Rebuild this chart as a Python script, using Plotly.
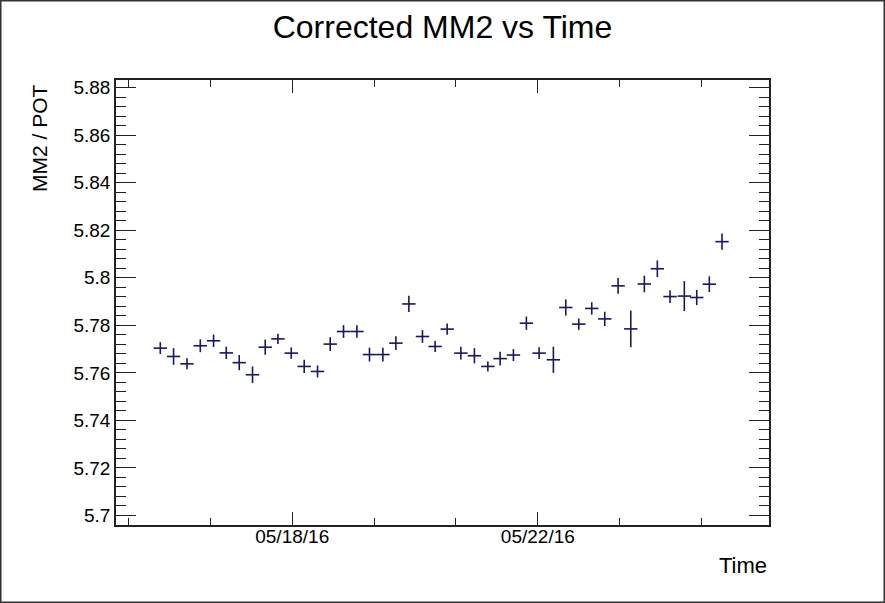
import pandas as pd
import plotly.graph_objects as go

# ---- data ----
times = [
    "2016-05-15 20:26", "2016-05-16 01:37", "2016-05-16 06:52", "2016-05-16 12:04",
    "2016-05-16 17:15", "2016-05-16 22:13", "2016-05-17 03:17", "2016-05-17 08:29",
    "2016-05-17 13:27", "2016-05-17 18:25", "2016-05-17 23:37", "2016-05-18 04:41",
    "2016-05-18 09:53", "2016-05-18 14:51", "2016-05-18 20:03", "2016-05-19 01:17",
    "2016-05-19 06:12", "2016-05-19 11:26", "2016-05-19 16:31", "2016-05-19 21:36",
    "2016-05-20 02:55", "2016-05-20 07:52", "2016-05-20 12:34", "2016-05-20 17:55",
    "2016-05-20 23:13", "2016-05-21 04:28", "2016-05-21 09:16", "2016-05-21 14:28",
    "2016-05-21 19:32", "2016-05-22 00:30", "2016-05-22 06:05", "2016-05-22 10:56",
    "2016-05-22 16:01", "2016-05-22 21:05", "2016-05-23 02:10", "2016-05-23 07:22",
    "2016-05-23 12:20", "2016-05-23 17:38", "2016-05-23 22:43", "2016-05-24 03:41",
    "2016-05-24 09:16", "2016-05-24 14:07", "2016-05-24 19:02", "2016-05-25 00:00",
]
mm2 = [
    5.7704, 5.7669, 5.7638, 5.7714, 5.7735, 5.7684, 5.7643, 5.7592,
    5.7708, 5.7743, 5.7683, 5.7627, 5.7606, 5.7721, 5.7774, 5.7774,
    5.7677, 5.7677, 5.7725, 5.7890, 5.7753, 5.7711, 5.7784, 5.7683,
    5.7672, 5.7627, 5.7660, 5.7675, 5.7809, 5.7683, 5.7655, 5.7875,
    5.7805, 5.7871, 5.7827, 5.7966, 5.7785, 5.7974, 5.8038, 5.7921,
    5.7923, 5.7917, 5.7973, 5.8152,
]
mm2_err = [
    0.0025, 0.0035, 0.0023, 0.0027, 0.0026, 0.0026, 0.0032, 0.0035,
    0.0032, 0.0022, 0.0024, 0.0028, 0.0025, 0.0029, 0.0027, 0.0026,
    0.0029, 0.0029, 0.0029, 0.0034, 0.0027, 0.0023, 0.0024, 0.0027,
    0.0032, 0.0021, 0.0029, 0.0025, 0.0028, 0.0025, 0.0055, 0.0034,
    0.0024, 0.0026, 0.0030, 0.0033, 0.0077, 0.0035, 0.0035, 0.0027,
    0.0063, 0.0032, 0.0033, 0.0034,
]
half_bin_hours = 2.62  # horizontal error (half bin width), hours

y_tick_vals = [5.70, 5.72, 5.74, 5.76, 5.78, 5.80, 5.82, 5.84, 5.86, 5.88]
y_tick_text = ["5.7", "5.72", "5.74", "5.76", "5.78", "5.8", "5.82", "5.84", "5.86", "5.88"]
x_tick_dates = ["2016-05-18", "2016-05-22"]
x_tick_text = ["05/18/16", "05/22/16"]

x_range_dates = ["2016-05-15 03:07", "2016-05-25 18:22"]
y_range = [5.6960, 5.8832]


def to_ms(values):
    return [int(v) for v in (pd.to_datetime(values).astype("int64") // 10**6)]


HOUR_MS = 3600 * 1000
x_ms = to_ms(times)
x_tick_vals = to_ms(x_tick_dates)
x_range = to_ms(x_range_dates)

color = "#16166e"
font_family = "Liberation Sans, Arial, Helvetica, sans-serif"

fig = go.Figure()
fig.add_trace(go.Scatter(
    x=x_ms, y=mm2, mode="markers",
    marker=dict(size=1, color=color, opacity=0),
    error_y=dict(type="data", array=mm2_err, color=color, thickness=1.6, width=0),
    error_x=dict(type="constant", value=half_bin_hours * HOUR_MS,
                 color=color, thickness=1.6, width=0),
    showlegend=False, hoverinfo="y",
))

fig.update_layout(
    width=885, height=603,
    margin=dict(l=116, r=116, t=80, b=78),
    paper_bgcolor="white", plot_bgcolor="white",
    font=dict(family=font_family, color="black"),
    title=dict(text="Corrected MM2 vs Time", x=0.5, xref="paper", xanchor="center",
               y=1 - 27 / 603, yanchor="middle",
               font=dict(size=32, color="black", family=font_family)),
    xaxis=dict(
        type="linear", range=x_range,
        tickmode="array", tickvals=x_tick_vals, ticktext=x_tick_text,
        ticks="inside", ticklen=13, tickwidth=1.3, tickcolor="#222",
        ticklabelstandoff=-7,
        showline=True, linecolor="#222", linewidth=1.5, mirror="ticks",
        showgrid=False, zeroline=False,
        tickfont=dict(size=19, color="black"),
        minor=dict(ticks="inside", ticklen=7, tickwidth=1.2, tickcolor="#222",
                   dtick=32 * HOUR_MS, tick0=x_tick_vals[0], showgrid=False),
    ),
    yaxis=dict(
        range=y_range,
        tickmode="array", tickvals=y_tick_vals, ticktext=y_tick_text,
        ticks="inside", ticklen=20, tickwidth=1.3, tickcolor="#222",
        showline=True, linecolor="#222", linewidth=1.5, mirror="ticks",
        showgrid=False, zeroline=False,
        tickfont=dict(size=19, color="black"),
        minor=dict(ticks="inside", ticklen=10, tickwidth=1.2, tickcolor="#222",
                   dtick=0.004, tick0=5.70, showgrid=False),
    ),
    annotations=[
        dict(text="Time", xref="paper", yref="paper", x=1, y=0, xanchor="right",
             yanchor="middle", yshift=-40, showarrow=False,
             font=dict(size=22, color="black", family=font_family)),
        dict(text="MM2 / POT", xref="paper", yref="paper", x=0, y=1,
             xanchor="center", yanchor="top", xshift=-77, yshift=-2,
             textangle=-90, showarrow=False,
             font=dict(size=21, color="black", family=font_family)),
    ],
    shapes=[
        dict(type="rect", xref="paper", yref="paper",
             x0=-116 / 653, x1=1 + 116 / 653, y0=-78 / 445, y1=1 + 80 / 445,
             line=dict(color="#333", width=3), fillcolor="rgba(0,0,0,0)", layer="above"),
    ],
)

fig.write_html("out.html")
